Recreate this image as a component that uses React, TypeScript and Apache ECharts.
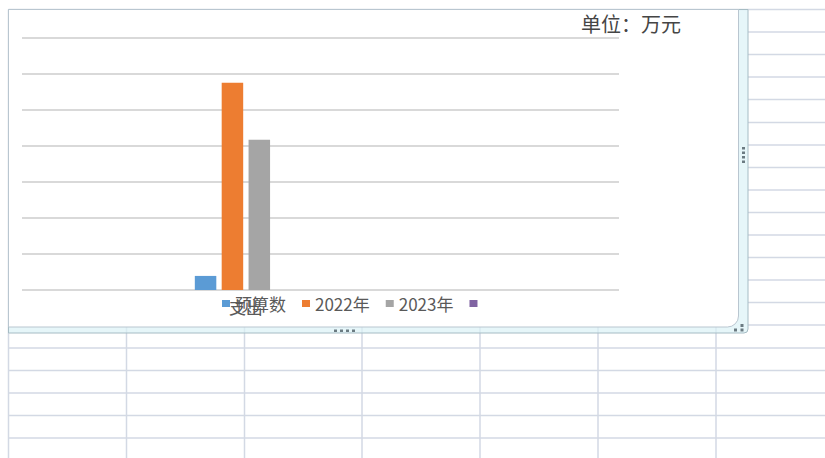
import React, { useEffect, useRef } from "react";
import * as echarts from "echarts";

// ---- data ----
const categories = ["", "支出", "", ""];
const seriesNames = ["预算数", "2022年", "2023年", " "];
const budgetValues = [null, 39, null, null];
const values2022 = [null, 574, null, null];
const values2023 = [null, 416, null, null];
const valuesOther = [null, 0, null, null];
const seriesColors = ["#5b9bd5", "#ed7d31", "#a5a5a5", "#8064a2"];
const yMin = 0;
const yMax = 700;
const yInterval = 100;
const unitText = "单位：万元";

const FONT = '"Noto Sans CJK SC", "Noto Sans", sans-serif';

function spreadsheetGraphics() {
  const els: any[] = [];
  const lineColor = "#d3d9e4";
  const rowH = 22.55;
  const top = 9.5;
  const colW = 117.9;
  const left = 8.5;
  // horizontal row lines
  for (let k = 0; k <= 19; k++) {
    const y = Math.round((top + rowH * k) * 2) / 2;
    const x1 = k === 0 ? left : k >= 15 ? left : 748;
    els.push({
      type: "line",
      z: -20,
      shape: { x1, y1: y, x2: 825, y2: y },
      style: { stroke: lineColor, lineWidth: 1.5 },
      silent: true,
    });
  }
  // vertical column lines
  els.push({
    type: "line",
    z: -20,
    shape: { x1: left, y1: top, x2: left, y2: 458 },
    style: { stroke: lineColor, lineWidth: 1.5 },
    silent: true,
  });
  for (let c = 1; c <= 6; c++) {
    const x = Math.round((left + colW * c) * 2) / 2;
    els.push({
      type: "line",
      z: -20,
      shape: { x1: x, y1: 327, x2: x, y2: 458 },
      style: { stroke: lineColor, lineWidth: 1.5 },
      silent: true,
    });
  }
  // selection frame band
  els.push({
    type: "rect",
    z: -15,
    shape: { x: 8.5, y: 9.5, width: 739.5, height: 323.5, r: [0, 0, 4, 0] },
    style: { fill: "rgba(220,242,246,0.7)", stroke: "#a6bcc4", lineWidth: 1 },
    silent: true,
  });
  // chart area
  els.push({
    type: "rect",
    z: -14,
    shape: { x: 8.5, y: 9.5, width: 730, height: 317.5, r: [0, 0, 11, 0] },
    style: { fill: "#ffffff", stroke: "#b9c6d0", lineWidth: 1 },
    silent: true,
  });
  // handles
  const dot = (x: number, y: number, w = 3, h = 3) => ({
    type: "rect",
    z: -13,
    shape: { x, y, width: w, height: h },
    style: { fill: "#6b7b82" },
    silent: true,
  });
  [147, 151.5, 156, 160.5].forEach((y) => els.push(dot(742, y, 3, 2.5)));
  [334, 340, 346, 352].forEach((x) => els.push(dot(x, 329.5, 3, 2.5)));
  els.push(dot(740.5, 324, 3, 3));
  els.push(dot(734, 328.5, 3, 3));
  els.push(dot(740.5, 328.5, 3, 3));
  return els;
}

export default function App() {
  const ref = useRef<HTMLDivElement>(null);
  useEffect(() => {
    if (!ref.current) return;
    const chart = echarts.init(ref.current, undefined, { renderer: "svg" });
    const dataSets = [budgetValues, values2022, values2023, valuesOther];
    chart.setOption({
      animation: false,
      backgroundColor: "#ffffff",
      title: {
        text: unitText,
        left: 581,
        top: 13,
        padding: 0,
        textStyle: {
          fontFamily: FONT,
          fontSize: 20,
          fontWeight: "normal",
          color: "#454545",
        },
      },
      legend: {
        data: seriesNames,
        left: 222,
        top: 295,
        padding: 0,
        itemWidth: 8,
        itemHeight: 7,
        itemGap: 16,
        icon: "rect",
        textStyle: { fontFamily: FONT, fontSize: 17, color: "#595959" },
      },
      grid: { left: 22, right: 206, top: 37.3, bottom: 168, containLabel: false },
      xAxis: {
        type: "category",
        data: categories,
        axisLine: { show: false },
        axisTick: { show: false },
        axisLabel: {
          fontFamily: FONT,
          fontSize: 17,
          color: "#595959",
          margin: 8,
        },
      },
      yAxis: {
        type: "value",
        min: yMin,
        max: yMax,
        interval: yInterval,
        axisLabel: { show: false },
        axisLine: { show: false },
        axisTick: { show: false },
        splitLine: { lineStyle: { color: "#d9d9d9", width: 2 } },
      },
      graphic: spreadsheetGraphics(),
      series: seriesNames.map((name, i) => ({
        name,
        type: "bar",
        data: dataSets[i],
        barWidth: 21.5,
        barGap: "25%",
        itemStyle: { color: seriesColors[i] },
      })),
    });
    return () => chart.dispose();
  }, []);
  return (
    <div
      ref={ref}
      style={{ position: "fixed", left: 0, top: 0, width: 825, height: 458 }}
    />
  );
}
